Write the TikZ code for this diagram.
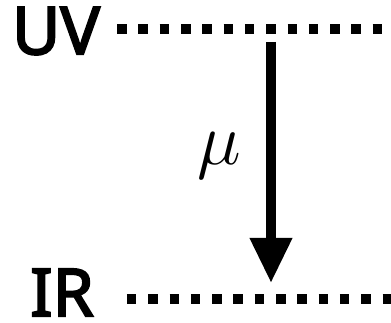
\documentclass[tikz,border=0pt]{standalone}
\usepackage{fix-cm}
\usepackage{fontspec}
\newfontfamily\levelfont{Noto Sans}[AutoFakeBold=3]
\usetikzlibrary{arrows.meta}
\tikzset{
  level/.style={font=\levelfont\bfseries\fontsize{66}{66}\selectfont,inner sep=0pt},
  level line/.style={line width=9.5pt,dash pattern=on 9.5pt off 11.8pt},
}
\begin{document}
\begin{tikzpicture}[x=1pt,y=1pt]
  \useasboundingbox (0,0) rectangle (391,323);
  \node[level] (uv) at (56,292) {UV};
  \node[level] (ir) at (62,30.5) {IR};
  \coordinate (uvend) at (391,294);
  \coordinate (irend) at (391,24);
  \draw[level line] ([xshift=17]uv.east |- uvend) -- (uvend);
  \draw[level line] ([xshift=33]ir.east |- irend) -- (irend);
  \coordinate (hi) at (271,281);
  \coordinate (lo) at (271,40);
  \draw[line width=10pt,-{Triangle[length=45pt,width=40pt]}] (hi) -- (lo);
  \node (mu) at (219,167) {\fontsize{74}{74}\selectfont\(\mu\)};
\end{tikzpicture}
\end{document}
